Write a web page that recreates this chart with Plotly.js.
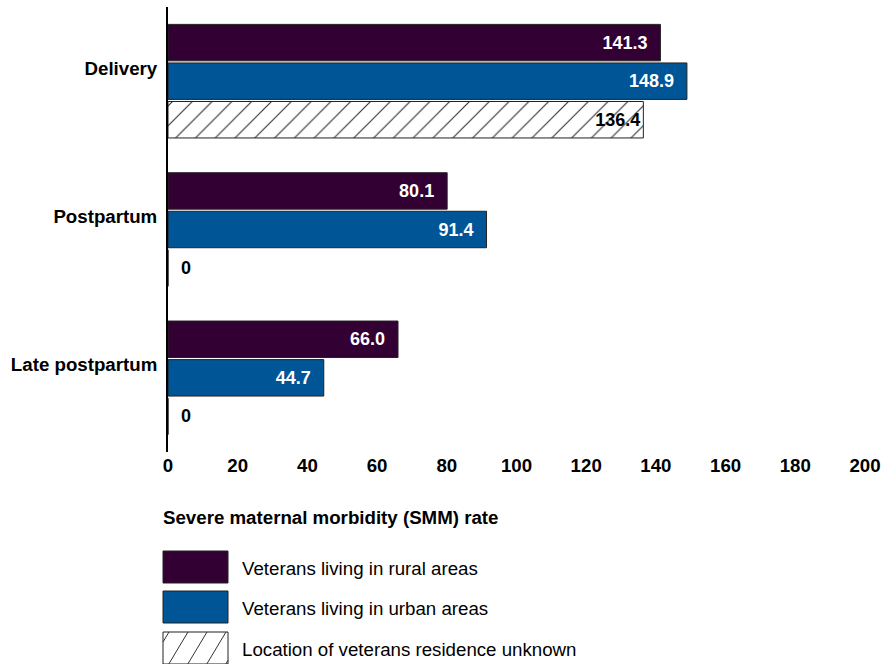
<!DOCTYPE html>
<html>
<head>
<meta charset="utf-8">
<script src="https://cdn.plot.ly/plotly-3.0.1.min.js"></script>
<style>html,body{margin:0;padding:0;background:#fff;}#chart{width:890px;height:664px;}</style>
</head>
<body>
<div id="chart"></div>
<script>
// ---- data ----
var categories = ['Delivery', 'Postpartum', 'Late postpartum'];
var seriesNames = ['Veterans living in rural areas', 'Veterans living in urban areas', 'Location of veterans residence unknown'];
var ruralValues = [141.3, 80.1, 66.0];
var urbanValues = [148.9, 91.4, 44.7];
var unknownValues = [136.4, 0, 0];
var xTickValues = [0, 20, 40, 60, 80, 100, 120, 140, 160, 180, 200];
var xAxisTitle = 'Severe maternal morbidity (SMM) rate';

// ---- style ----
var FONT = 'Arial, "Liberation Sans", sans-serif';
var FS = 18.7;
var RURAL = '#330033';
var URBAN = '#005596';
var EDGE = '#222222';
var W = 890, H = 664;
var M = {l: 168, r: 25, t: 7, b: 212};
var plotW = W - M.l - M.r, plotH = H - M.t - M.b;
function px(x) { return (x - M.l) / plotW; }
function py(y) { return (H - M.b - y) / plotH; }

function labels(vals, pad) {
  return vals.map(function (v) { return v === 0 ? '\u00a0\u00a00' : v.toFixed(1) + pad; });
}
function positions(vals) {
  return vals.map(function (v) { return v === 0 ? 'outside' : 'inside'; });
}

var PAD = '\u00a0\u00a0';
var traces = [
  {name: seriesNames[0], values: ruralValues, color: RURAL, txt: '#ffffff', pad: PAD},
  {name: seriesNames[1], values: urbanValues, color: URBAN, txt: '#ffffff', pad: PAD},
  {name: seriesNames[2], values: unknownValues, color: '#ffffff', txt: '#000000', pad: '', pattern: true}
].map(function (s) {
  var t = {
    type: 'bar', orientation: 'h', name: s.name,
    x: s.values, y: categories,
    text: labels(s.values, s.pad),
    textposition: positions(s.values),
    insidetextanchor: 'end',
    constraintext: 'none',
    cliponaxis: false,
    insidetextfont: {family: FONT, size: 18, color: s.txt, weight: 'bold'},
    outsidetextfont: {family: FONT, size: 18, color: '#000000', weight: 'bold'},
    marker: {color: s.color, line: {color: EDGE, width: 1}},
    hoverinfo: 'x+y', showlegend: false
  };
  if (s.pattern) {
    t.marker.pattern = {shape: '/', bgcolor: '#ffffff', fgcolor: '#333333', size: 14, solidity: 0.08, fillmode: 'replace'};
  }
  return t;
});

// ---- manual legend (large swatches) ----
var shapes = [], annotations = [];
var legendTop = [551, 591, 632];
var swX0 = 163, swX1 = 228, swH = 32;
var swFill = [RURAL, URBAN, '#ffffff'];
legendTop.forEach(function (top, i) {
  shapes.push({type: 'rect', xref: 'paper', yref: 'paper',
    x0: px(swX0), x1: px(swX1), y0: py(top), y1: py(top + swH),
    fillcolor: swFill[i], line: {color: EDGE, width: 1}, layer: 'above'});
  annotations.push({xref: 'paper', yref: 'paper', x: px(240), y: py(top + swH / 2 + 1),
    xanchor: 'left', yanchor: 'middle', showarrow: false, text: seriesNames[i],
    font: {family: FONT, size: FS, color: '#000000'}});
});
// hatch for third swatch
(function () {
  var x0 = swX0, x1 = swX1, y0 = legendTop[2], y1 = legendTop[2] + swH;
  var h = y1 - y0, k = 0.6, s = 19, d = '';
  for (var c = x0 - h * k + 6; c < x1; c += s) {
    var tA = Math.max(0, (x0 - c) / k), tB = Math.min(h, (x1 - c) / k);
    if (tB <= tA) continue;
    var ax = c + tA * k, ay = y1 - tA, bx = c + tB * k, by = y1 - tB;
    d += 'M' + px(ax).toFixed(5) + ',' + py(ay).toFixed(5) + 'L' + px(bx).toFixed(5) + ',' + py(by).toFixed(5);
  }
  shapes.push({type: 'path', xref: 'paper', yref: 'paper', path: d, line: {color: '#333333', width: 1}, layer: 'above'});
})();

// x axis title, left aligned
annotations.push({xref: 'paper', yref: 'paper', x: px(161), y: py(517), xanchor: 'left', yanchor: 'middle',
  showarrow: false, text: '<b>' + xAxisTitle + '</b>', font: {family: FONT, size: FS, color: '#000000'}});

var layout = {
  width: W, height: H,
  margin: M,
  paper_bgcolor: '#ffffff', plot_bgcolor: '#ffffff',
  barmode: 'group', bargap: 0.22, bargroupgap: 0.055,
  font: {family: FONT, size: FS, color: '#000000'},
  showlegend: false,
  xaxis: {
    range: [0, 200], tickvals: xTickValues, ticktext: xTickValues.map(String),
    showgrid: false, zeroline: false, showline: false, ticks: '',
    tickfont: {family: FONT, size: FS, color: '#000000', weight: 'bold'},
    fixedrange: true
  },
  yaxis: {
    type: 'category', categoryorder: 'array', categoryarray: categories,
    range: [2.5, -0.5], autorange: false,
    showgrid: false, zeroline: false, showline: true, linecolor: '#000000', linewidth: 2,
    ticks: '', ticklabelstandoff: 5, ticklabelshift: 13,
    tickfont: {family: FONT, size: FS, color: '#000000', weight: 'bold'},
    fixedrange: true
  },
  shapes: shapes,
  annotations: annotations
};

Plotly.newPlot('chart', traces, layout, {displayModeBar: false, staticPlot: true});
</script>
</body>
</html>
